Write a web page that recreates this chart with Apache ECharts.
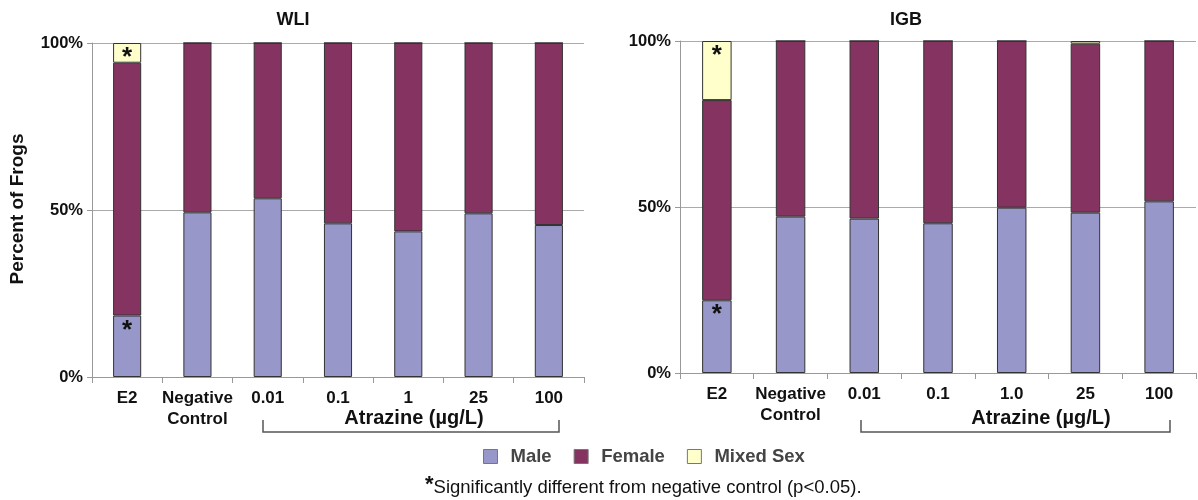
<!DOCTYPE html>
<html>
<head>
<meta charset="utf-8">
<script src="https://cdn.jsdelivr.net/npm/echarts@6/dist/echarts.min.js"></script>
<style>
  html, body { margin: 0; padding: 0; background: #fff; }
  #chart { width: 1198px; height: 500px; }
</style>
</head>
<body>
<div id="chart"></div>
<script>
// ── Data (percent of frogs) ────────────────────────────────────────────────
const wliCats = ['E2', 'Negative\nControl', '0.01', '0.1', '1', '25', '100'];
const igbCats = ['E2', 'Negative\nControl', '0.01', '0.1', '1.0', '25', '100'];

const wliMale   = [18.4, 49.3, 53.5, 46.0, 43.6, 49.0, 45.5];
const wliFemale = [75.7, 50.7, 46.5, 54.0, 56.4, 51.0, 54.5];
const wliMixed  = [5.9, 0, 0, 0, 0, 0, 0];

const igbMale   = [21.9, 47.1, 46.5, 45.1, 49.8, 48.3, 51.7];
const igbFemale = [60.3, 52.9, 53.5, 54.9, 50.2, 50.9, 48.3];
const igbMixed  = [17.8, 0, 0, 0, 0, 0.8, 0];

// significance markers (category index)
const sigMale  = [0];
const sigMixed = [0];

const FONT = '"Liberation Sans", Arial, sans-serif';
const C_MALE = '#9797C9', C_FEMALE = '#853461', C_MIXED = '#FFFFCC';

function withStars(values, sig) {
  return values.map((v, i) => sig.includes(i)
    ? { value: v, label: { show: true, position: 'insideTop', formatter: '*',
        fontSize: 26, fontWeight: 'bold', color: '#111', distance: 2, fontFamily: FONT } }
    : v);
}

function barSeries(name, color, data, idx) {
  return {
    name, type: 'bar', stack: 's' + idx, xAxisIndex: idx, yAxisIndex: idx,
    barWidth: '40%', data,
    itemStyle: { color, borderColor: '#333', borderWidth: 1 },
    emphasis: { disabled: true }
  };
}

const catAxis = (grid, cats) => ({
  type: 'category', gridIndex: grid, data: cats,
  axisLine: { lineStyle: { color: '#999' } },
  axisTick: { show: true, length: 6, lineStyle: { color: '#999' } },
  axisLabel: { color: '#111', fontWeight: 'bold', fontSize: 17, fontFamily: FONT,
               margin: 11, lineHeight: 21, interval: 0 }
});

const valAxis = (grid) => ({
  type: 'value', gridIndex: grid, min: 0, max: 100, interval: 50,
  axisLine: { show: true, lineStyle: { color: '#999' } },
  axisTick: { show: true, length: 5, lineStyle: { color: '#999' } },
  splitLine: { lineStyle: { color: '#aaa' } },
  axisLabel: { formatter: '{value}%', color: '#111', fontWeight: 'bold', fontSize: 16.5,
               fontFamily: FONT, margin: 9 }
});

const chart = echarts.init(document.getElementById('chart'));

const txt = (x, y, text, size, extra) => Object.assign({
  type: 'text', x, y,
  style: { text, fontSize: size, fontWeight: 'bold', fontFamily: FONT,
    fill: '#111', align: 'center', verticalAlign: 'middle' }
}, extra || {});

const bracket = (x1, x2, y) => ({
  type: 'polyline',
  shape: { points: [[x1, y - 12], [x1, y], [x2, y], [x2, y - 12]] },
  style: { stroke: '#555', lineWidth: 1.5, fill: null }
});

chart.setOption({
  animation: false,
  grid: [
    { left: 92, right: 614, top: 43, bottom: 123 },
    { left: 680, right: 2, top: 41, bottom: 127 }
  ],
  xAxis: [catAxis(0, wliCats), catAxis(1, igbCats)],
  yAxis: [valAxis(0), valAxis(1)],
  legend: {
    data: ['Male', 'Female', 'Mixed Sex'],
    top: 442, left: 478, itemWidth: 14, itemHeight: 14, itemGap: 22,
    icon: 'rect',
    textStyle: { color: '#444', fontWeight: 'bold', fontSize: 18.5, fontFamily: FONT,
                 padding: [0, 0, 0, 8] },
    itemStyle: { borderColor: '#777', borderWidth: 1 }
  },
  series: [
    barSeries('Male', C_MALE, withStars(wliMale, sigMale), 0),
    barSeries('Female', C_FEMALE, wliFemale, 0),
    barSeries('Mixed Sex', C_MIXED, withStars(wliMixed, sigMixed), 0),
    barSeries('Male', C_MALE, withStars(igbMale, sigMale), 1),
    barSeries('Female', C_FEMALE, igbFemale, 1),
    barSeries('Mixed Sex', C_MIXED, withStars(igbMixed, sigMixed), 1)
  ],
  graphic: [
    txt(293, 20, 'WLI', 18),
    txt(906, 20, 'IGB', 18),
    txt(18, 209, 'Percent of Frogs', 19, { rotation: Math.PI / 2 }),
    txt(414, 418, 'Atrazine (µg/L)', 20),
    txt(1041, 418, 'Atrazine (µg/L)', 20),
    bracket(263, 559, 432),
    bracket(861, 1170, 432),
    { type: 'text', x: 425, y: 488,
      style: { text: '{s|*}Significantly different from negative control (p<0.05).',
        fontSize: 18.5, fontFamily: FONT, fill: '#111', verticalAlign: 'middle',
        rich: { s: { fontSize: 22, fontWeight: 'bold', verticalAlign: 'top', padding: [0, 0, 6, 0] } } } }
  ]
});
</script>
</body>
</html>
